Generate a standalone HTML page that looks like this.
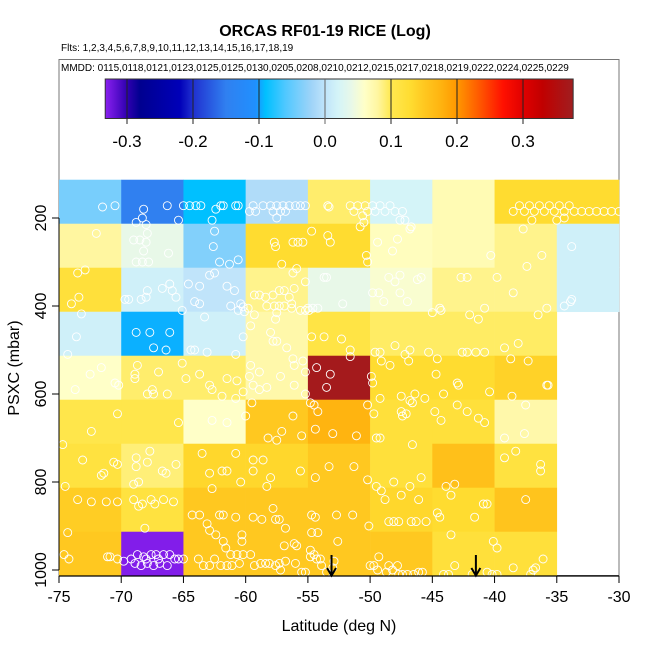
<!DOCTYPE html>
<html><head><meta charset="utf-8"><style>
html,body{margin:0;padding:0;background:#fff;}
svg{display:block;font-family:"Liberation Sans",Arial,sans-serif;}
</style></head><body>
<svg id="chart" width="650" height="650" viewBox="0 0 650 650" xmlns="http://www.w3.org/2000/svg">
<defs><linearGradient id="cbar" x1="0" x2="1" y1="0" y2="0"></linearGradient></defs>
<text x="325" y="36" text-anchor="middle" font-size="16" font-weight="bold">ORCAS RF01-19 RICE (Log)</text>
<text x="61" y="51" font-size="10">Flts: 1,2,3,4,5,6,7,8,9,10,11,12,13,14,15,16,17,18,19</text>
<rect x="59" y="59.5" width="560" height="516" fill="none" stroke="#777" stroke-width="1"/>
<text x="61" y="71" font-size="10">MMDD: 0115,0118,0121,0123,0125,0125,0130,0205,0208,0210,0212,0215,0217,0218,0219,0222,0224,0225,0229</text>
<g id="cells"></g>
<g id="pts"></g>
<g id="legend"></g>
<g id="axes"></g>
<text x="339" y="631" text-anchor="middle" font-size="16">Latitude (deg N)</text>
<text transform="translate(19,368) rotate(-90)" text-anchor="middle" font-size="16">PSXC (mbar)</text>
</svg>
<script>
const latEdges = [-75,-70,-65,-60,-55,-50,-45,-40,-35];
const presTops = [113,213,313,413,513,613,713,813,913];
const cellValues = [
 [-0.04,-0.15,-0.09,-0.01,0.093,0.02,0.07,0.13,0.13],
 [0.08,0.04,-0.035,0.13,0.13,0.065,0.07,0.085,0.015],
 [0.12,0.015,0.0,0.085,0.04,0.055,0.085,0.085,0.015],
 [0.015,-0.095,0.015,0.075,0.11,0.095,0.095,0.095,null],
 [0.06,0.093,0.093,0.075,0.37,0.13,0.13,0.14,null],
 [0.105,0.105,0.06,0.15,0.175,0.12,0.12,0.075,null],
 [0.115,0.09,0.135,0.135,0.15,0.12,0.16,0.115,null],
 [0.145,0.115,0.15,0.15,0.15,0.135,0.13,0.155,null],
 [0.15,-0.33,0.15,0.15,0.15,0.15,0.12,0.12,null]
];
const legendTicks = [-0.3,-0.2,-0.1,0.0,0.1,0.2,0.3];
const xTicks = [-75,-70,-65,-60,-55,-50,-45,-40,-35,-30];
const yTicks = [200,400,600,800,1000];
const arrowLats = [-53.1,-41.5];
const ptLat = [-71.5,-70.5,-68.8,-68.2,-68.3,-68,-67.9,-66.3,-65.4,-65,-64.5,-64,-63.6,-62.7,-62.4,-62,-61.8,-62.5,-60.8,-60.6,-59.7,-59.4,-59.2,-58.6,-58,-57.8,-57.5,-57.2,-57,-56.8,-56.5,-56,-55.6,-55.2,-57.5,-54.7,-53.4,-53.3,-51.6,-51.3,-51,-50.6,-50.4,-50.2,-49.8,-49.6,-49.2,-48.8,-48.4,-48,-47.4,-47.6,-46.8,-50.8,
-38.5,-38,-37.6,-37.2,-36.8,-36.4,-36,-35.6,-35.2,-34.8,-34.4,-34,-33.6,-33,-32.4,-31.8,-31.2,-30.6,-30,-37,-35,-34.4,
-72,-73.5,-72.9,-74,-73.4,-73.2,-73.6,-74.3,-71.6,-69,-68.5,-68,-68.2,-66.2,-68.8,-68.3,-67.8,-66.1,-65.6,-67.9,-68,-68.4,-69.4,-69.7,-65.9,-66.7,-63.7,-64.6,-64.1,-63.7,-62.6,-62.1,-62.5,-61.3,-60.6,-61.5,-60.9,-60.4,-60.2,-60.6,-60.1,-62.9,-65.1,-63.3,-68.8,-67.7,-66.1,-67.4,-66.4,-64.4,-64.1,-63.1,-60.8,-65.1,-61.2,-57.7,-57.6,-57.1,-56.2,-56.2,-55.8,-55.4,-55.9,-55.2,-59.3,-58.9,-58.4,-57.8,-57.3,-56.9,-56.1,-56.5,-58.3,-57.7,-57.3,-56.9,-56.3,-56.3,-55.6,-55.2,-54.9,-57.5,-59.3,-59.8,-57.6,-59.6,-60.2,-58,-57.8,-57.5,-56.7,-56.2,-56.1,-55.4,-59.6,-58.9,-54.7,
-53.4,-53.2,-50.3,-50.2,-50.5,-49.4,-47.8,-48.2,-46.7,-47.2,-40.3,-37.7,-37.4,-36.2,-33.8,-42.7,-42.2,-39.8,-38.5,-36.5,-35.8,-33.9,-34.4,-33.8,-44.3,-44.4,-45,-47,-47.6,-48,-48.5,-47.6,-45.9,-46.2,-49.3,-49.8,-48.9,-53.5,-53.7,-52.2,-54.2,-54.6,-55,-42,-41.3,-40.8,-44.6,-41.5,-42.6,-42.2,-40.8,-39.2,-38.1,-38.7,-37.3,-53.7,-52.3,-51.6,-51.6,-49.6,-49.2,-49.1,-48,-46.8,-47.2,-46.9,-45.3,-44.7,-48.4,
-72.5,-70.5,-70.2,-73.7,-68.7,-68.9,-68.9,-67,-67.9,-67.4,-67.5,-66.3,-64.8,-63.7,-62.9,-62.7,-61.5,-60.7,-61.9,-60.2,-60.8,-59.7,-59.4,-58.9,-58.3,-57.2,-56.1,-55.2,-55.2,-54.8,-54.3,-53.5,-53.2,-49.8,-49.9,-49.2,-47.5,-46.8,-46.4,-46.6,-45.6,-43,-42.9,-44.1,-43,-40.4,-38.6,-35.8,-35.7,-37.5,
-70.3,-72.4,-74.7,-65.4,-61.5,-62.7,-60,-59.5,-56.2,-57.1,-58.2,-57.5,-55.5,-54.2,-54.5,-54.4,-53,-51.1,-50.2,-49.7,-49.5,-49.2,-47.4,-47.5,-46.6,-47.1,-44.8,-44.3,-42.2,-41.3,-40.8,-39.2,-37.6,-38.3,
-73.1,-74.5,-71.6,-70.3,-70.6,-71.4,-68.8,-68.8,-67.9,-67.7,-66.7,-66.4,-65.6,-68.6,-69,-63.5,-62.9,-61.9,-61.5,-62.7,-60.8,-60.4,-59.4,-58.6,-59.4,-58,-58.3,-55.6,-54.4,-53.3,-51.3,-50.2,-49.5,-49.1,-48.1,-47.5,-46.8,-45.9,-46.1,-48.8,-43.9,-43.2,-43.5,-39.2,-36.3,-36.3,-37.5,
-73.5,-72.4,-71.2,-70.3,-69,-68.3,-67.6,-67.3,-68.6,-66.6,-65.8,-68.1,-74.3,-64.3,-63.7,-63.1,-62.1,-61.8,-62.9,-62.4,-61.8,-61.6,-60.3,-60.3,-60.8,-59.4,-58.7,-57.8,-57.6,-57.3,-56.8,-56.1,-55.9,-56.9,-54.7,-54.4,-54.7,-54.2,-52.7,-52.6,-51.4,-50.1,-48.5,-48.1,-47.7,-46.7,-46.3,-45.5,-44.6,-44.4,-43.5,-40.9,-40.6,-40.1,-39.8,-41.6,
-74.6,-74.2,-71.1,-70.9,-70.3,-69.8,-68.7,-68.2,-67.6,-67.2,-66.6,-66.1,-65.7,-65.4,-65,-68.9,-68.4,-67.9,-67.4,-66.9,-66.3,-68,-67,-69.2,-63.8,-63.4,-62.9,-62.5,-62,-61.5,-61.1,-61.2,-60.7,-60.5,-60.2,-59.6,-59.3,-58.8,-58.4,-58.1,-57.6,-57.3,-57.2,-56.8,-56,-55.5,-55.2,-54.8,-54.8,-54.5,-54.3,-54,-53.9,-53.5,-53,-52.9,-50,-49.7,-49.4,-49.3,-48.7,-48.2,-47.7,-47.4,-47,-46.5,-46.1,-45.8,-48.5,-47.8,-44.1,-43.7,-43.2,-41.8,-40.6,-40.2,-39.8,-38.5,-37.1,-36.9,-36.7,-36.1];
const ptPres = [175,172,210,180,200,215,235,172,205,172,172,172,172,205,180,172,172,230,172,172,185,172,185,172,172,185,172,185,172,185,172,172,172,172,200,230,172,175,172,185,172,195,172,185,172,185,172,185,172,185,185,205,225,220,
185,172,185,172,185,172,185,172,185,172,185,172,185,185,185,185,185,185,185,205,205,200,
235,325,318,395,380,418,470,510,540,250,250,255,275,280,300,300,300,350,380,365,380,385,385,385,365,360,355,350,390,395,265,300,325,305,295,355,365,395,402,410,413,330,410,425,460,460,460,495,500,500,500,505,510,530,400,255,265,305,325,255,255,255,315,345,375,375,380,375,365,365,360,380,400,400,400,400,405,395,410,410,410,415,420,405,430,445,470,460,480,480,495,520,535,525,535,550,470,
240,255,285,300,210,255,248,275,220,205,285,225,310,285,265,335,335,335,370,420,405,390,400,385,410,405,415,390,370,345,335,330,335,340,370,370,390,335,335,395,405,405,405,420,430,405,520,505,505,505,505,495,485,520,525,470,475,500,515,505,505,525,490,500,510,525,505,555,535,
555,575,580,590,535,555,565,550,600,600,590,600,565,555,580,590,565,570,605,595,610,560,580,590,585,560,580,550,600,620,540,585,555,575,560,610,605,615,600,620,610,575,580,600,625,595,605,580,580,625,
645,685,715,665,665,660,650,620,650,685,700,705,695,640,625,680,690,695,625,645,700,700,650,640,715,645,640,660,640,655,665,700,690,730,
750,810,785,760,755,780,745,765,755,730,775,780,760,800,805,735,780,775,775,815,735,800,750,750,775,790,810,775,790,765,765,795,810,820,800,830,810,790,840,840,810,805,830,745,760,775,840,
840,845,845,845,840,850,840,850,855,840,845,905,915,875,875,895,875,875,910,920,935,950,920,935,880,880,885,860,885,885,905,940,945,945,875,880,915,915,875,935,875,900,890,890,890,890,890,890,870,880,920,850,850,935,950,880,
965,975,970,970,975,980,965,970,965,965,965,965,975,975,975,985,990,985,990,985,990,975,975,975,975,990,990,975,990,990,990,965,965,985,965,965,990,985,985,985,990,985,1000,980,985,1005,1005,970,955,965,975,975,990,1005,995,980,990,990,1000,970,1005,1000,1010,1010,1010,1010,1005,1005,990,990,1010,1010,990,1010,1005,1010,1010,995,1010,1000,995,975];

const NS='http://www.w3.org/2000/svg';
const X0=59, XS=560/45, Y200=218, YS=0.44;
function xPos(lat){return X0+(lat+75)*XS;}
function yPos(p){return Y200+(p-200)*YS;}
const LX0=325, LXS=660;
function lPos(v){return LX0+v*LXS;}
const stops=[[-0.333,'#8a20f0'],[-0.30,'#3000b0'],[-0.28,'#000090'],[-0.22,'#0000b8'],[-0.2,'#2030d0'],[-0.15,'#3080f0'],[-0.105,'#2090ff'],[-0.09,'#00c0ff'],[-0.06,'#50c8ff'],[-0.02,'#a0d4f8'],[0,'#c0e4fa'],[0.02,'#d4f4f8'],[0.04,'#e8f8e8'],[0.06,'#ffffc8'],[0.08,'#fff6a0'],[0.10,'#ffe850'],[0.13,'#ffdc30'],[0.15,'#ffc820'],[0.175,'#ffb410'],[0.2,'#ff9800'],[0.23,'#ff6000'],[0.27,'#ff1000'],[0.3,'#e00000'],[0.33,'#c00000'],[0.376,'#a01e20']];
function hex(c){return [1,3,5].map(i=>parseInt(c.substr(i,2),16));}
function colorOf(v){
  if(v<=stops[0][0])return stops[0][1];
  for(let i=1;i<stops.length;i++){
    if(v<=stops[i][0]){const a=stops[i-1],b=stops[i];const t=(v-a[0])/(b[0]-a[0]);
      const ca=hex(a[1]),cb=hex(b[1]);return 'rgb('+ca.map((x,k)=>Math.round(x+(cb[k]-x)*t)).join(',')+')';}
  }
  return stops[stops.length-1][1];
}
function mk(tag,attrs,parent){const e=document.createElementNS(NS,tag);for(const k in attrs)e.setAttribute(k,attrs[k]);parent.appendChild(e);return e;}

const grad=document.getElementById('cbar');
const vmin=-0.333,vmax=0.376;
stops.forEach(s=>{mk('stop',{offset:((s[0]-vmin)/(vmax-vmin)),'stop-color':s[1]},grad);});

const cg=document.getElementById('cells');
cellValues.forEach((row,r)=>{row.forEach((v,c)=>{
  if(v===null)return;
  const x1=xPos(latEdges[c]);
  const lastCol = c===latEdges.length-1;
  const xr = lastCol ? (r<3?xPos(-30):xPos(-35)) : xPos(latEdges[c]+5);
  const y1=yPos(presTops[r]), y2=yPos(presTops[r]+100);
  const el=mk('rect',{x:x1,y:y1,width:(xr-x1)+0.3,height:(y2-y1)+0.3,fill:colorOf(v)},cg);
  
  
});});

const pg=document.getElementById('pts');
ptLat.forEach((lat,i)=>{
  const el=mk('circle',{cx:xPos(lat),cy:yPos(ptPres[i]),r:4,fill:'none',stroke:'#fff','stroke-width':0.9},pg);
  
  
});

const ag=document.getElementById('axes');
arrowLats.forEach(lat=>{
  const x=xPos(lat);
  const a=mk('g',{},ag);
  
  
  mk('line',{x1:x,y1:555,x2:x,y2:575,stroke:'#000','stroke-width':2},a);
  mk('polyline',{points:(x-4.5)+',568 '+x+',575.5 '+(x+4.5)+',568',fill:'none',stroke:'#000','stroke-width':2},a);
});

const lg=document.getElementById('legend');
const bar=mk('rect',{x:lPos(vmin),y:79,width:lPos(vmax)-lPos(vmin),height:39.5,fill:'url(#cbar)',stroke:'#333','stroke-width':1},lg);


legendTicks.forEach(v=>{
  const x=lPos(v);
  mk('line',{x1:x,y1:79,x2:x,y2:124,stroke:v===0?'#666':'#222','stroke-width':1},lg);
  const t=mk('text',{x:x,y:147,'text-anchor':'middle','font-size':17},lg);
  t.textContent=v.toFixed(1);
  
  
});

mk('line',{x1:X0,y1:576,x2:xPos(-30),y2:576,stroke:'#000','stroke-width':1.2},ag);
xTicks.forEach(v=>{
  const x=xPos(v);
  mk('line',{x1:x,y1:576,x2:x,y2:583,stroke:'#000'},ag);
  const t=mk('text',{x:x,y:602,'text-anchor':'middle','font-size':16},ag);
  t.textContent=String(v);
  
  
});
mk('line',{x1:X0,y1:yPos(200),x2:X0,y2:yPos(1000),stroke:'#000'},ag);
yTicks.forEach(v=>{
  const y=yPos(v);
  mk('line',{x1:X0-7,y1:y,x2:X0,y2:y,stroke:'#000'},ag);
  const t=mk('text',{transform:'translate(46,'+y+') rotate(-90)','text-anchor':'middle','font-size':16},ag);
  t.textContent=String(v);
  
  
});
</script>
</body></html>
